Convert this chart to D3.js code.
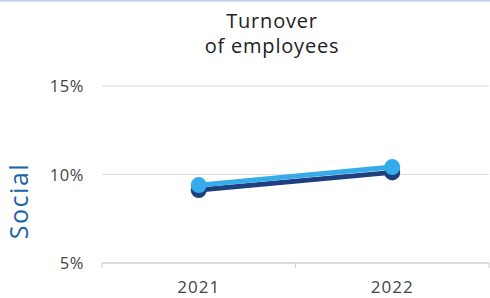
<!DOCTYPE html>
<html>
<head>
<meta charset="utf-8">
<script src="https://d3js.org/d3.v7.min.js"></script>
<style>
  body { margin: 0; background: #fff; font-family: "Open Sans", sans-serif; }
</style>
</head>
<body>
<script>
const years = ["2021", "2022"];
const seriesDark = [9.12, 10.12];
const seriesLight = [9.4, 10.42];
const yTicks = [5, 10, 15];

const width = 490, height = 298;
const svg = d3.select("body").append("svg")
    .attr("width", width).attr("height", height);

// top border
svg.append("rect").attr("x", 0).attr("y", 0).attr("width", width).attr("height", 1.5)
    .attr("fill", "#b8cce4");

const x = d3.scaleBand().domain(years).range([102, 489]);
const y = d3.scaleLinear().domain([5, 15]).range([263, 86]);

// gridlines
svg.selectAll("line.grid").data(yTicks).enter().append("line")
    .attr("x1", 102).attr("x2", 489)
    .attr("y1", d => y(d)).attr("y2", d => y(d))
    .attr("stroke", d => d === 5 ? "#d0d0d0" : "#dcdcdc")
    .attr("stroke-width", d => d === 5 ? 1.5 : 1);

// x ticks
const edges = [102, 295.5, 489];
svg.selectAll("line.tick").data(edges).enter().append("line")
    .attr("x1", d => d).attr("x2", d => d)
    .attr("y1", y(5)).attr("y2", y(5) + 5)
    .attr("stroke", "#d0d0d0");

// y labels
svg.selectAll("text.ylab").data(yTicks).enter().append("text")
    .attr("x", 84).attr("y", d => y(d) + 6)
    .attr("text-anchor", "end")
    .attr("font-size", 16.5).attr("letter-spacing", 0.6).attr("fill", "#444")
    .text(d => d + "%");

// x labels
svg.selectAll("text.xlab").data(years).enter().append("text")
    .attr("x", d => x(d) + x.bandwidth() / 2).attr("y", 293)
    .attr("text-anchor", "middle")
    .attr("font-size", 17).attr("letter-spacing", 1).attr("fill", "#444")
    .text(d => d);

// title
svg.append("text").attr("x", 272).attr("y", 28).attr("text-anchor", "middle")
    .attr("font-size", 20).attr("letter-spacing", 0.8).attr("fill", "#222").text("Turnover");
svg.append("text").attr("x", 272).attr("y", 53).attr("text-anchor", "middle")
    .attr("font-size", 20).attr("letter-spacing", 0.8).attr("fill", "#222").text("of employees");

// axis title
svg.append("text")
    .attr("transform", "translate(28,201) rotate(-90)")
    .attr("text-anchor", "middle")
    .attr("font-size", 25).attr("letter-spacing", 1.5).attr("fill", "#1a64a8")
    .text("Social");

const line = d3.line()
    .x((d, i) => x(years[i]) + x.bandwidth() / 2)
    .y(d => y(d));

function drawSeries(vals, color) {
  svg.append("path").datum(vals)
      .attr("d", line).attr("fill", "none")
      .attr("stroke", color).attr("stroke-width", 5);
  svg.selectAll(null).data(vals).enter().append("circle")
      .attr("cx", (d, i) => x(years[i]) + x.bandwidth() / 2)
      .attr("cy", d => y(d))
      .attr("r", 8)
      .attr("fill", color);
}

drawSeries(seriesDark, "#1e3f80");
drawSeries(seriesLight, "#36abea");
</script>
</body>
</html>
